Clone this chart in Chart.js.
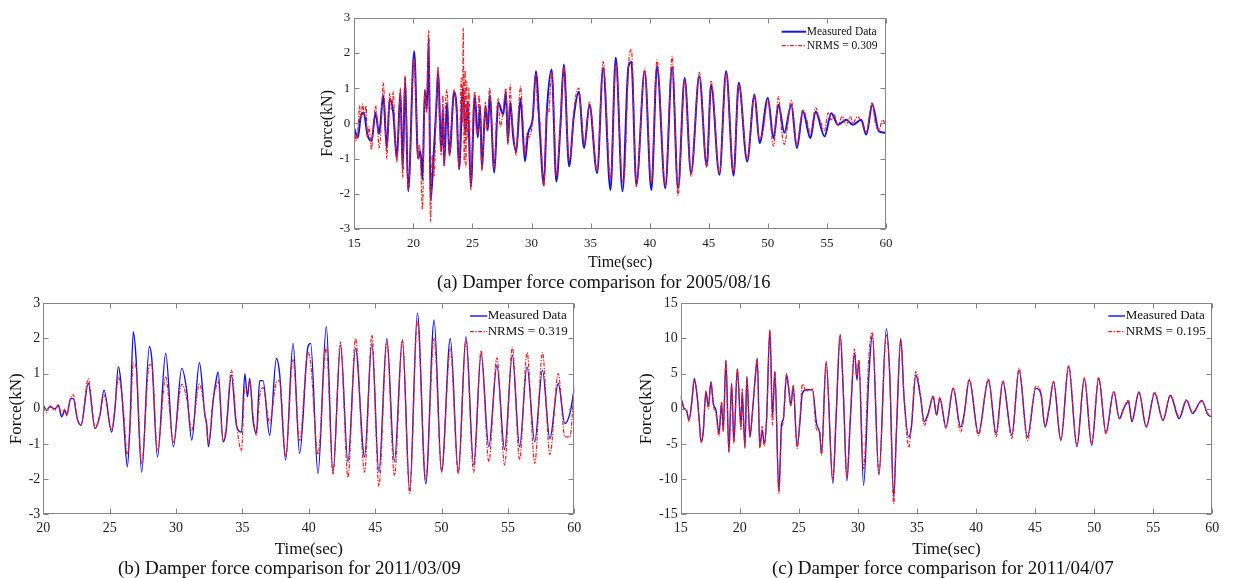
<!DOCTYPE html>
<html>
<head>
<meta charset="utf-8">
<script src="https://cdn.jsdelivr.net/npm/chart.js@4.4.1/dist/chart.umd.min.js"></script>
<style>
  body { margin:0; background:#fff; width:1234px; height:578px; position:relative; overflow:hidden; }
  canvas { position:absolute; }
  .cap { position:absolute; white-space:nowrap; color:#111; font-family:"Liberation Serif", serif; line-height:1.2; }
</style>
</head>
<body>
<canvas id="chartA" width="600" height="272" style="left:318px;top:0px"></canvas>
<canvas id="chartB" width="590" height="270" style="left:6px;top:290px"></canvas>
<canvas id="chartC" width="594" height="270" style="left:636px;top:290px"></canvas>
<div class="cap" style="left:437px;top:270.6px;font-size:18.5px">(a) Damper force comparison for 2005/08/16</div>
<div class="cap" style="left:118px;top:556.9px;font-size:19px">(b) Damper force comparison for 2011/03/09</div>
<div class="cap" style="left:772px;top:556.9px;font-size:19px">(c) Damper force comparison for 2011/04/07</div>
<script>
/* damper force comparison - three panels */

// (a) 2005/08/16
const timeA = [15.0,15.3,15.55,15.8,16.1,16.45,16.8,17.1,17.45,17.75,18.0,18.3,18.6,18.9,19.1,19.3,19.56,20.07,20.4,20.6,20.77,20.97,21.15,21.3,21.45,21.7,21.95,22.1,22.35,22.5,22.6,22.85,23.05,23.45,23.65,23.87,24.2,24.4,24.6,24.86,25.2,25.45,25.65,25.8,26.1,26.3,26.46,26.85,27.18,27.6,27.83,28.0,28.2,28.45,28.7,29.07,29.44,29.7,30.1,30.37,30.7,31.04,31.3,31.7,32.1,32.45,32.73,33.18,33.58,34.0,34.45,34.9,35.55,36.06,36.68,37.13,37.7,38.2,38.45,38.87,39.58,40.14,40.62,41.32,41.9,42.4,42.96,43.5,44.2,44.83,45.2,45.9,46.47,47.1,47.54,48.25,48.87,49.3,50.0,50.48,50.9,51.4,51.98,52.46,52.97,53.6,54.04,54.8,55.37,55.93,56.64,57.2,57.9,58.33,58.84,59.4,60];
const measuredA = [-0.15,-0.4,0.2,0.3,-0.3,-0.5,0.3,-0.3,0.8,-0.7,0.7,0.3,-1.0,0.9,-1.3,1.3,-1.93,2.05,-1.0,-0.8,-1.6,0.95,0.4,2.4,-2.2,-1.0,0.5,1.5,-0.8,0.4,-1.2,0.6,-0.9,0.9,0.5,-1.3,1.0,-0.3,0.6,-1.8,0.8,-0.4,0.5,-1.3,0.5,-0.2,0.8,-1.4,0.6,0.25,0.9,-0.55,0.6,-0.4,-0.8,0.7,-1.08,-0.3,0.15,1.48,-0.23,-1.75,0.35,1.53,-1.65,-0.04,1.67,-1.22,0.2,0.9,-0.7,0.53,-1.41,1.57,-1.89,1.86,-1.93,1.6,1.75,-1.74,1.48,-1.89,1.62,-1.84,1.6,-1.85,1.29,-1.41,1.34,-1.22,1.1,-1.46,1.48,-1.48,1.15,-1.08,0.82,-0.56,0.72,-0.42,0.53,-0.27,0.53,-0.7,0.34,-0.42,0.34,-0.37,0.29,-0.04,0.1,-0.04,0.1,-0.32,0.53,-0.23,-0.27];
const timeModelA = [15.0,15.15,15.3,15.45,15.55,15.7,15.85,16.0,16.1,16.25,16.45,16.6,16.8,16.95,17.1,17.25,17.45,17.6,17.75,17.9,18.0,18.15,18.3,18.45,18.6,18.75,18.9,19.0,19.1,19.3,19.56,20.07,20.25,20.4,20.5,20.6,20.77,20.97,21.1,21.3,21.45,21.6,21.75,21.95,22.1,22.2,22.35,22.5,22.6,22.7,22.85,23.05,23.2,23.45,23.65,23.87,24.05,24.15,24.22,24.3,24.38,24.45,24.52,24.6,24.7,24.86,25.05,25.2,25.3,25.45,25.55,25.65,25.8,26.0,26.1,26.2,26.3,26.46,26.6,26.85,27.05,27.18,27.35,27.6,27.83,28.0,28.2,28.3,28.45,28.7,28.9,29.07,29.25,29.44,29.6,29.8,30.1,30.37,30.5,30.7,31.04,31.3,31.45,31.7,31.9,32.1,32.3,32.45,32.73,32.9,33.18,33.4,33.58,34.0,34.2,34.45,34.6,34.9,35.55,36.06,36.68,37.13,37.7,37.9,38.2,38.45,38.87,39.58,40.14,40.62,41.32,41.9,42.4,42.96,43.5,44.2,44.83,45.2,45.9,46.47,47.1,47.54,48.25,48.87,49.3,49.6,50.0,50.48,50.9,51.2,51.4,51.98,52.46,52.97,53.3,53.6,54.04,54.4,54.8,55.1,55.37,55.6,55.93,56.3,56.64,57.0,57.2,57.6,57.9,58.33,58.84,59.1,59.4,59.7,60];
const modelA = [-0.1,-0.5,-0.2,0.5,0.1,0.55,0.2,0.5,-0.4,-0.1,-0.75,-0.2,0.5,0.0,-0.7,-0.2,1.15,0.3,-1.0,0.3,0.85,0.4,0.9,-0.3,-1.1,-0.2,1.0,-0.3,-1.55,1.35,-1.9,1.85,0.3,-1.0,-0.6,-1.0,-2.45,0.95,0.3,2.65,-2.8,-0.9,-1.5,0.7,1.6,0.2,-0.9,0.8,-1.2,0.4,0.95,-0.9,-0.1,0.95,0.3,-1.3,1.3,0.0,2.7,-1.1,1.5,-1.25,1.2,-0.4,1.0,-1.9,0.2,0.9,-0.1,-0.3,0.8,0.3,-1.35,0.0,0.6,-0.2,0.2,1.0,0.2,-1.3,0.3,0.7,-0.1,0.35,1.0,-0.6,1.1,0.3,-0.2,-0.9,0.4,1.05,0.2,-0.9,-0.3,-0.4,0.1,1.4,0.5,0.1,-1.8,0.4,0.3,1.45,0.2,-1.5,-0.8,0.1,1.6,0.6,-1.05,-0.6,0.35,1.0,0.3,-0.6,-0.4,0.6,-1.35,1.75,-1.6,1.7,-1.65,-1.3,1.6,2.1,-1.8,1.55,-1.7,1.8,-1.75,1.9,-2.05,1.2,-1.5,1.45,-1.25,1.2,-1.4,1.4,-1.4,1.1,-1.0,0.8,-0.45,-0.2,0.65,-0.65,0.75,-0.3,-0.6,0.65,-0.6,0.4,0.1,-0.3,0.45,0.1,-0.2,0.3,0.1,0.25,-0.05,0.2,-0.05,0.2,0.0,0.2,0.05,-0.25,0.6,0.0,-0.2,0.1,-0.05];

// (b) 2011/03/09
const timeB = [20,20.25,20.5,20.88,21.13,21.38,21.63,21.76,22.06,22.26,22.56,22.84,23.39,23.9,24.27,24.57,25.15,25.4,25.65,25.83,26.03,26.33,26.53,26.78,26.98,27.41,27.99,28.17,28.6,29.22,29.8,30.43,30.8,31.18,31.76,32.17,32.3,32.44,32.8,33.0,33.17,33.55,33.75,34.17,34.55,34.93,35.18,35.38,35.55,35.8,36.05,36.3,36.55,37.05,37.56,37.8,38.26,38.81,39.31,39.94,40.14,40.69,41.32,41.82,42.39,42.95,43.52,44.2,44.75,45.28,45.88,46.45,47.05,47.6,48.18,48.81,49.44,50.0,50.66,51.26,51.84,52.42,52.98,53.56,54.17,54.75,55.33,55.88,56.44,57.02,57.6,58.16,58.79,59.29,59.67,60];
const measuredB = [0.1,-0.04,0.06,0.0,0.1,-0.23,-0.04,-0.18,0.29,0.29,-0.28,-0.47,0.72,-0.56,-0.18,0.53,-0.66,0.0,1.2,0.82,-0.18,-1.65,-0.42,2.19,1.48,-1.8,1.77,1.43,-1.37,1.58,-1.08,1.15,0.53,-0.89,1.31,-0.18,-0.42,-1.08,0.25,0.77,1.05,-0.94,-0.7,0.96,-0.47,-0.66,1.0,0.34,0.86,-0.32,-0.7,0.8,0.8,-0.75,1.43,1.0,-1.46,1.86,-1.27,1.77,1.86,-1.84,2.34,-1.82,1.81,-1.51,1.72,-1.37,1.86,-1.8,2.0,-1.5,1.96,-2.32,2.72,-2.13,2.53,-1.8,2.0,-1.8,2.05,-1.6,1.58,-1.08,1.24,-1.16,1.53,-1.08,1.2,-0.94,1.1,-0.85,0.72,-0.42,-0.13,0.58];
const modelB = [0.05,-0.1,0.1,-0.05,0.12,-0.15,0.0,-0.2,0.3,0.4,-0.3,-0.45,0.85,-0.55,-0.15,0.4,-0.6,0.05,0.9,0.65,0.0,-1.3,-0.6,1.3,1.2,-1.55,1.25,1.25,-1.2,0.9,-0.95,0.7,0.3,-0.6,0.7,-0.1,-0.5,-1.0,0.3,0.6,0.8,-0.9,-0.6,1.1,-0.4,-1.2,0.6,0.5,0.8,-0.2,-0.75,0.35,0.6,-0.4,0.75,0.8,-1.35,1.4,-0.9,1.6,1.3,-1.3,1.75,-1.85,1.9,-1.95,2.0,-1.8,2.1,-2.2,1.9,-1.9,1.96,-2.4,2.5,-2.0,2.0,-1.75,1.7,-1.85,1.95,-1.8,1.65,-1.5,1.45,-1.6,1.75,-1.45,1.6,-1.55,1.6,-1.3,1.0,-0.8,-0.8,0.7];

// (c) 2011/04/07
const timeC = [15,15.28,15.5,15.7,15.93,16.15,16.4,16.58,16.72,16.9,17.14,17.34,17.56,17.76,17.99,18.24,18.46,18.6,18.83,19.08,19.31,19.5,19.79,20.11,20.2,20.44,20.6,20.86,21.06,21.34,21.48,21.7,21.9,22.07,22.27,22.55,22.77,22.97,23.31,23.54,23.68,23.96,24.15,24.32,24.52,24.86,25.08,25.3,25.65,26.15,26.5,26.77,26.92,27.31,27.88,28.16,28.5,28.78,29.07,29.35,29.72,29.92,30.08,30.48,30.93,31.22,31.78,32.41,32.69,33.03,33.26,33.63,33.91,34.31,34.53,34.9,35.3,35.61,35.95,36.37,36.66,36.94,37.45,38.07,38.7,38.98,39.43,40.2,41.05,41.7,42.27,43.03,43.64,44.35,45.06,45.48,45.85,46.19,46.56,47.18,47.84,48.54,49.17,49.79,50.38,51.0,51.66,52.14,52.5,52.9,53.19,53.79,54.41,55.12,55.83,56.45,57.19,57.82,58.33,59.1,59.66,60];
const measuredC = [1.7,0.05,-0.3,-1.6,0.76,4.3,1.7,-1.85,-4.7,-3.5,2.4,0.3,3.85,0.76,-0.2,-3.5,0.76,-3.0,6.9,-6.1,3.6,-4.7,5.7,-2.6,2.4,-5.4,4.6,-4.0,-0.66,5.0,7.2,-5.4,-3.0,-4.9,-1.4,11.2,-1.1,5.3,-11.8,-2.1,-1.6,4.8,2.7,0.5,3.1,-5.4,-2.1,2.2,2.7,2.7,-2.1,-3.5,-6.4,6.7,-10.6,-1.1,10.5,1.7,-10.2,-1.85,7.9,4.1,6.7,-10.9,4.8,10.5,-9.4,11.4,5.0,-12.5,-3.3,10.0,1.5,-4.0,-2.6,4.8,1.7,-1.85,-0.66,1.7,-0.9,1.5,-2.6,2.9,-2.6,-0.9,4.1,-3.5,4.1,-3.5,3.85,-3.75,5.5,-4.0,2.9,2.2,-2.6,0.05,3.85,-4.5,6.0,-5.4,4.3,-5.2,4.3,-3.3,2.4,-1.4,0.05,1.0,-1.85,2.4,-2.6,2.2,-1.6,1.9,-1.4,1.2,-0.66,1.2,-0.9,-1.1];
const modelC = [1.9,0.2,-0.2,-1.8,0.9,4.0,1.5,-2.0,-4.8,-3.3,2.6,0.0,3.8,0.5,-0.8,-3.9,1.0,-3.3,6.8,-6.2,3.4,-4.9,5.6,-3.0,2.8,-5.6,4.4,-4.0,-0.9,5.2,7.0,-5.6,-2.5,-5.3,-1.8,11.2,-2.3,5.3,-12.0,-3.0,-1.8,5.0,3.0,0.4,3.4,-5.6,-1.9,3.5,2.5,2.8,-3.0,-3.2,-6.6,6.6,-10.0,-0.5,10.6,2.0,-9.8,-1.3,8.5,4.5,7.0,-8.5,7.5,10.9,-9.2,10.5,5.2,-13.5,-3.0,9.8,1.5,-5.5,-2.2,5.3,2.0,-2.4,-0.9,1.9,-0.8,1.7,-2.8,3.0,-3.3,-1.2,4.3,-3.8,4.3,-4.0,4.0,-4.2,5.8,-4.5,3.2,2.4,-2.4,0.3,3.9,-4.4,6.2,-5.0,4.4,-4.9,4.5,-3.6,2.5,-1.4,0.0,1.3,-1.6,2.3,-2.5,2.4,-1.7,2.0,-1.1,1.3,-0.5,1.1,-0.8,-1.2];

const BLUE = '#1414e6';
const RED  = '#ff1a1a';
const SERIF = '"Liberation Serif", "Times New Roman", serif';

const pts = (ts, vs) => ts.slice(0, Math.min(ts.length, vs.length)).map((t, i) => ({ x: t, y: vs[i] }));

// box frame, inward ticks on all sides, and the in-plot legend
function panelDecor(o) {
  return {
    id: 'panelDecor',
    afterDraw(chart) {
      const { ctx, chartArea: a, scales: { x, y } } = chart;
      const L = Math.round(a.left) + 0.5, R = Math.round(a.right) - 0.5;
      const T = Math.round(a.top) + 0.5,  B = Math.round(a.bottom) - 0.5;
      ctx.save();
      ctx.strokeStyle = '#858585';
      ctx.lineWidth = 1;
      ctx.setLineDash([]);
      ctx.strokeRect(L, T, R - L, B - T);
      ctx.beginPath();
      x.ticks.forEach(t => {
        const px = Math.round(x.getPixelForValue(t.value)) + 0.5;
        ctx.moveTo(px, B); ctx.lineTo(px, B - 5);
        ctx.moveTo(px, T); ctx.lineTo(px, T + 5);
      });
      y.ticks.forEach(t => {
        const py = Math.round(y.getPixelForValue(t.value)) + 0.5;
        ctx.moveTo(L, py); ctx.lineTo(L + 5, py);
        ctx.moveTo(R, py); ctx.lineTo(R - 5, py);
      });
      ctx.stroke();

      // legend
      const lg = o.legend;
      const x0 = a.right - lg.lineStart, x1 = a.right - lg.lineEnd, xt = a.right - lg.textStart;
      const r1 = a.top + lg.row1, r2 = a.top + lg.row2;
      ctx.lineWidth = o.blueW; ctx.strokeStyle = BLUE;
      ctx.beginPath(); ctx.moveTo(x0, r1); ctx.lineTo(x1, r1); ctx.stroke();
      ctx.lineWidth = 1.2; ctx.strokeStyle = RED; ctx.setLineDash([4, 1.5, 1.2, 1.5]);
      ctx.beginPath(); ctx.moveTo(x0, r2); ctx.lineTo(x1, r2); ctx.stroke();
      ctx.setLineDash([]);
      ctx.fillStyle = '#111';
      ctx.font = lg.size + 'px ' + SERIF;
      ctx.textBaseline = 'middle';
      ctx.textAlign = 'left';
      ctx.fillText('Measured Data', xt, r1);
      ctx.fillText(o.nrms, xt, r2);
      ctx.restore();
    }
  };
}

function makeChart(id, o) {
  new Chart(document.getElementById(id), {
    type: 'line',
    data: { datasets: [
      { label: 'Measured Data', data: pts(o.tMeas, o.meas), borderColor: BLUE, borderWidth: o.blueW, order: 1 },
      { label: o.nrms, data: pts(o.tModel, o.model), borderColor: RED, borderWidth: 1.2, borderDash: [4, 1.5, 1.2, 1.5], order: 0 }
    ]},
    options: {
      responsive: false, animation: false,
      layout: { padding: o.pad },
      elements: { point: { radius: 0 }, line: { cubicInterpolationMode: 'monotone', fill: false } },
      plugins: { legend: { display: false }, tooltip: { enabled: false } },
      scales: {
        x: {
          type: 'linear', min: o.xMin, max: 60,
          ticks: { stepSize: 5, maxRotation: 0, autoSkip: false, padding: o.xPad, color: '#222', font: { family: SERIF, size: o.tickSize } },
          grid: { display: false, drawTicks: false }, border: { display: false },
          title: { display: true, text: 'Time(sec)', color: '#111', padding: 0, font: { family: SERIF, size: o.titleSize } },
          afterFit: s => { s.height = o.xH; }
        },
        y: {
          min: o.yMin, max: o.yMax,
          ticks: { stepSize: o.yStep, padding: o.yPad, color: '#222', font: { family: SERIF, size: o.tickSize } },
          grid: { display: false, drawTicks: false }, border: { display: false },
          title: { display: true, text: 'Force(kN)', color: '#111', padding: 0, font: { family: SERIF, size: o.titleSize } },
          afterFit: s => { s.width = o.yW; }
        }
      }
    },
    plugins: [panelDecor(o)]
  });
}

makeChart('chartA', {
  tMeas: timeA, meas: measuredA, tModel: timeModelA, model: modelA, nrms: 'NRMS = 0.309',
  xMin: 15, yMin: -3, yMax: 3, yStep: 1, blueW: 2,
  pad: { left: 0, right: 32, top: 17.7, bottom: 0 }, xH: 43, yW: 36.3,
  tickSize: 13, titleSize: 16, xPad: 6.5, yPad: 4,
  legend: { lineStart: 104.3, lineEnd: 80, textStart: 79.3, row1: 14, row2: 28, size: 11.5 }
});

makeChart('chartB', {
  tMeas: timeB, meas: measuredB, tModel: timeB, model: modelB, nrms: 'NRMS = 0.319',
  xMin: 20, yMin: -3, yMax: 3, yStep: 1, blueW: 1.4,
  pad: { left: 0, right: 21.7, top: 13.3, bottom: 0 }, xH: 45.7, yW: 37.3,
  tickSize: 14, titleSize: 17, xPad: 5.6, yPad: 3,
  legend: { lineStart: 104.3, lineEnd: 87, textStart: 86.6, row1: 12.7, row2: 28.4, size: 13 }
});

makeChart('chartC', {
  tMeas: timeC, meas: measuredC, tModel: timeC, model: modelC, nrms: 'NRMS = 0.195',
  xMin: 15, yMin: -15, yMax: 15, yStep: 5, blueW: 1.4,
  pad: { left: 0, right: 17.7, top: 13.3, bottom: 0 }, xH: 45.7, yW: 44.7,
  tickSize: 14, titleSize: 17, xPad: 5.6, yPad: 3,
  legend: { lineStart: 104, lineEnd: 87.3, textStart: 86.6, row1: 12.7, row2: 28.4, size: 13 }
});
</script>
</body>
</html>
